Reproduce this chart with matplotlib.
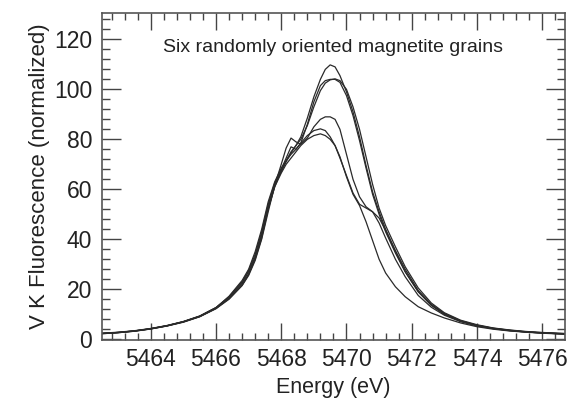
import matplotlib
matplotlib.use("Agg")
import matplotlib.pyplot as plt
from matplotlib.ticker import MultipleLocator

plt.rcParams['font.family'] = ['Liberation Sans', 'DejaVu Sans']

# Energy grid (eV)
energy = [5462.5, 5463.0, 5463.5, 5464.0, 5464.5, 5465.0, 5465.5, 5466.0, 5466.4, 5466.8,
          5467.0, 5467.2, 5467.4, 5467.6, 5467.8, 5468.0, 5468.15, 5468.3, 5468.45, 5468.6,
          5468.8, 5469.0, 5469.2, 5469.35, 5469.5, 5469.65, 5469.8, 5470.0, 5470.2, 5470.4,
          5470.6, 5470.8, 5471.0, 5471.2, 5471.5, 5471.8, 5472.2, 5472.6, 5473.0, 5473.5,
          5474.0, 5474.5, 5475.0, 5475.5, 5476.0, 5476.7]

# V K fluorescence for the six grains
grain_1 = [2.2, 2.6, 3.2, 4.1, 5.3, 6.9, 9.0, 12.3, 16.5, 22.0, 26.0, 32.0, 40.5, 52.0, 61.0,
           67.5, 71.5, 75.0, 77.5, 81.0, 88.5, 97.0, 104.0, 108.0, 109.8, 109.0, 105.5, 99.0,
           91.0, 81.0, 69.5, 59.0, 51.0, 44.0, 35.5, 28.0, 19.5, 14.0, 10.3, 7.4, 5.6, 4.4,
           3.6, 3.0, 2.6, 2.2]
grain_2 = [2.3, 2.7, 3.3, 4.2, 5.4, 7.0, 9.2, 12.6, 17.0, 23.0, 27.5, 34.0, 43.0, 54.0, 62.5,
           68.0, 72.5, 77.0, 76.0, 78.5, 86.0, 95.0, 101.5, 103.5, 104.0, 104.0, 102.8, 97.5,
           89.5, 79.5, 68.5, 58.0, 50.0, 43.0, 34.5, 27.0, 19.0, 13.6, 10.0, 7.2, 5.5, 4.3,
           3.5, 2.9, 2.5, 2.1]
grain_3 = [2.4, 2.8, 3.4, 4.3, 5.5, 7.1, 9.3, 12.7, 16.8, 22.5, 27.0, 33.0, 42.0, 53.0, 62.0,
           67.0, 71.0, 74.5, 77.5, 80.0, 85.5, 93.0, 99.5, 102.5, 103.8, 104.2, 103.5, 100.0,
           93.0, 84.0, 73.0, 62.0, 52.5, 45.5, 37.0, 29.0, 20.5, 14.5, 10.6, 7.6, 5.8, 4.5,
           3.7, 3.1, 2.7, 2.3]
grain_4 = [2.3, 2.7, 3.3, 4.2, 5.4, 7.0, 9.1, 12.4, 16.2, 21.5, 25.5, 31.5, 40.0, 51.0, 61.5,
           70.0, 76.5, 80.5, 79.0, 78.0, 80.5, 85.0, 88.0, 89.0, 89.0, 88.0, 84.0, 74.0,
           64.0, 57.0, 53.0, 51.0, 48.5, 43.5, 35.0, 27.0, 19.0, 13.6, 10.0, 7.3, 5.5, 4.3,
           3.5, 2.9, 2.5, 2.1]
grain_5 = [2.3, 2.7, 3.3, 4.2, 5.4, 7.0, 9.2, 12.6, 17.2, 23.5, 28.0, 35.0, 44.0, 55.0, 63.0,
           68.5, 71.5, 74.0, 76.0, 78.5, 81.5, 83.5, 84.2, 83.5, 81.0, 77.5, 73.0, 65.0,
           58.0, 53.5, 47.0, 39.5, 32.0, 26.5, 21.0, 17.0, 13.0, 10.5, 8.5, 6.5, 5.0, 4.0,
           3.3, 2.8, 2.4, 2.0]
grain_6 = [2.2, 2.6, 3.2, 4.1, 5.3, 6.8, 9.0, 12.2, 16.0, 21.5, 26.0, 32.5, 41.5, 52.5, 61.0,
           66.5, 70.0, 72.5, 75.0, 77.5, 80.0, 81.5, 82.2, 81.5, 80.0, 77.5, 72.5, 65.5,
           58.5, 54.0, 52.5, 51.0, 46.5, 40.5, 32.0, 25.0, 17.5, 12.8, 9.6, 7.0, 5.3, 4.2,
           3.4, 2.9, 2.5, 2.1]

grains = [grain_1, grain_2, grain_3, grain_4, grain_5, grain_6]

fig = plt.figure(figsize=(5.69, 3.99), dpi=100)
ax = fig.add_axes([0.179, 0.148, 0.814, 0.819])

for g in grains:
    ax.plot(energy, g, color='#2a2a2a', linewidth=0.9)

ax.set_xlim(5462.5, 5476.7)
ax.set_ylim(-0.3, 130.5)

ax.xaxis.set_major_locator(MultipleLocator(2))
ax.xaxis.set_minor_locator(MultipleLocator(0.4))
ax.yaxis.set_major_locator(MultipleLocator(20))
ax.yaxis.set_minor_locator(MultipleLocator(4))

ax.tick_params(which='both', direction='in', top=True, right=True,
               color='#444444', width=1.0, labelsize=16.5, labelcolor='#222222')
ax.tick_params(axis='x', which='major', length=12, pad=6)
ax.tick_params(axis='x', which='minor', length=5)
ax.tick_params(axis='y', which='major', length=14, pad=7)
ax.tick_params(axis='y', which='minor', length=6)

for s in ax.spines.values():
    s.set_color('#555555')
    s.set_linewidth(1.2)

ax.set_xlabel('Energy (eV)', fontsize=15.5, color='#222222', labelpad=4)
ax.set_ylabel('V K Fluorescence (normalized)', fontsize=16, color='#222222', labelpad=3)

ax.text(5469.6, 116.8, 'Six randomly oriented magnetite grains', fontsize=14,
        color='#222222', ha='center', va='center')

fig.savefig('out.png', dpi=100)
